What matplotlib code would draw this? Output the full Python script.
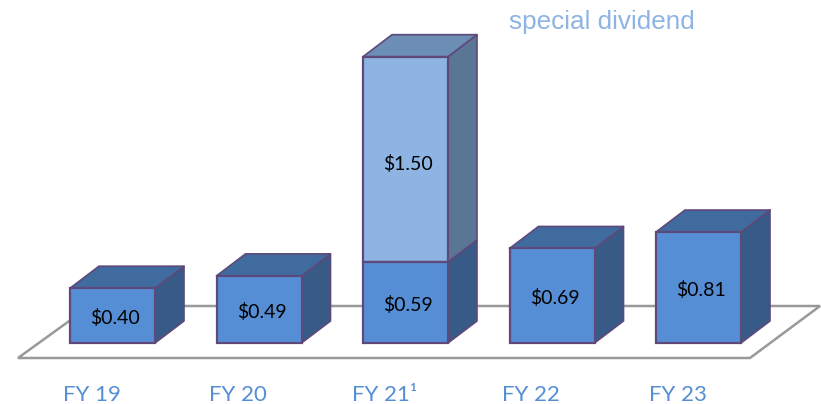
import matplotlib
matplotlib.use("Agg")
import matplotlib.pyplot as plt
from matplotlib.patches import Polygon

years = ["FY 19", "FY 20", "FY 21¹", "FY 22", "FY 23"]
regular = [0.40, 0.49, 0.59, 0.69, 0.81]
special = [0, 0, 1.50, 0, 0]
special_name = "special dividend"

# scale of the picture
W, H = 821, 404
px_x = 146.5   # pixels per category
px_y = 137.0   # pixels per dollar
x0_px = 112.5  # centre of first bar
y0_px = 343.0  # baseline

bar_w = 85 / px_x
dx = 29 / px_x
dy = 22 / px_y

front_c = "#558ed5"
top_c = "#3f6b9f"
side_c = "#375a87"
front_light = "#8db4e2"
top_light = "#6c8eb4"
side_light = "#5b7595"
edge_c = "#5f497a"
label_c = "#558ed5"

fig = plt.figure(figsize=(W / 100, H / 100), dpi=100)
ax = fig.add_axes([0, 0, 1, 1])
ax.set_xlim(-x0_px / px_x, (W - x0_px) / px_x)
ax.set_ylim((y0_px - H) / px_y, y0_px / px_y)
ax.axis("off")


def to_x(p):
    return (p - x0_px) / px_x


def to_y(p):
    return (y0_px - p) / px_y


# floor
floor = Polygon([(to_x(18), to_y(358)), (to_x(750), to_y(358)), (to_x(820), to_y(306)), (to_x(90), to_y(306))],
                closed=True, fc="white", ec="#999999", lw=1.8, zorder=1)
ax.add_patch(floor)


def box(i, bottom, height, front, top, side, z, draw_top=True):
    l = i - bar_w / 2
    r = i + bar_w / 2
    b = bottom
    t = bottom + height
    ax.add_patch(Polygon([(r, b), (r + dx, b + dy), (r + dx, t + dy), (r, t)], fc=side, ec=edge_c, lw=1.2,
                         joinstyle="round", zorder=z))
    if draw_top:
        ax.add_patch(Polygon([(l, t), (l + dx, t + dy), (r + dx, t + dy), (r, t)], fc=top, ec=edge_c, lw=1.2,
                             joinstyle="round", zorder=z))
    ax.bar(i, height, bar_w, bottom=b, color=front, edgecolor=edge_c, linewidth=1.6, zorder=z + 0.5)


for i in range(len(years)):
    has_special = special[i] > 0
    if has_special:
        box(i, regular[i], special[i], front_light, top_light, side_light, 3)
    box(i, 0, regular[i], front_c, top_c, side_c, 4, draw_top=not has_special)
    ax.text(i + 2.5 / px_x, regular[i] / 2 - 0.02, f"${regular[i]:.2f}", ha="center", va="center",
            fontsize=14, family="Lato", color="black", zorder=6)
    if has_special:
        ax.text(i + 2.5 / px_x, regular[i] + special[i] / 2 - 0.03, f"${special[i]:.2f}", ha="center", va="center",
                fontsize=14, family="Lato", color="black", zorder=6)
    ax.text(i - 21 / px_x, to_y(395), years[i], ha="center", va="center", fontsize=16,
            family="Lato", color=label_c)

ax.text(to_x(602), to_y(22), special_name, ha="center", va="center", fontsize=18.8,
        family="Liberation Sans", color="#8db4e2")

fig.savefig("out.png", dpi=100)
